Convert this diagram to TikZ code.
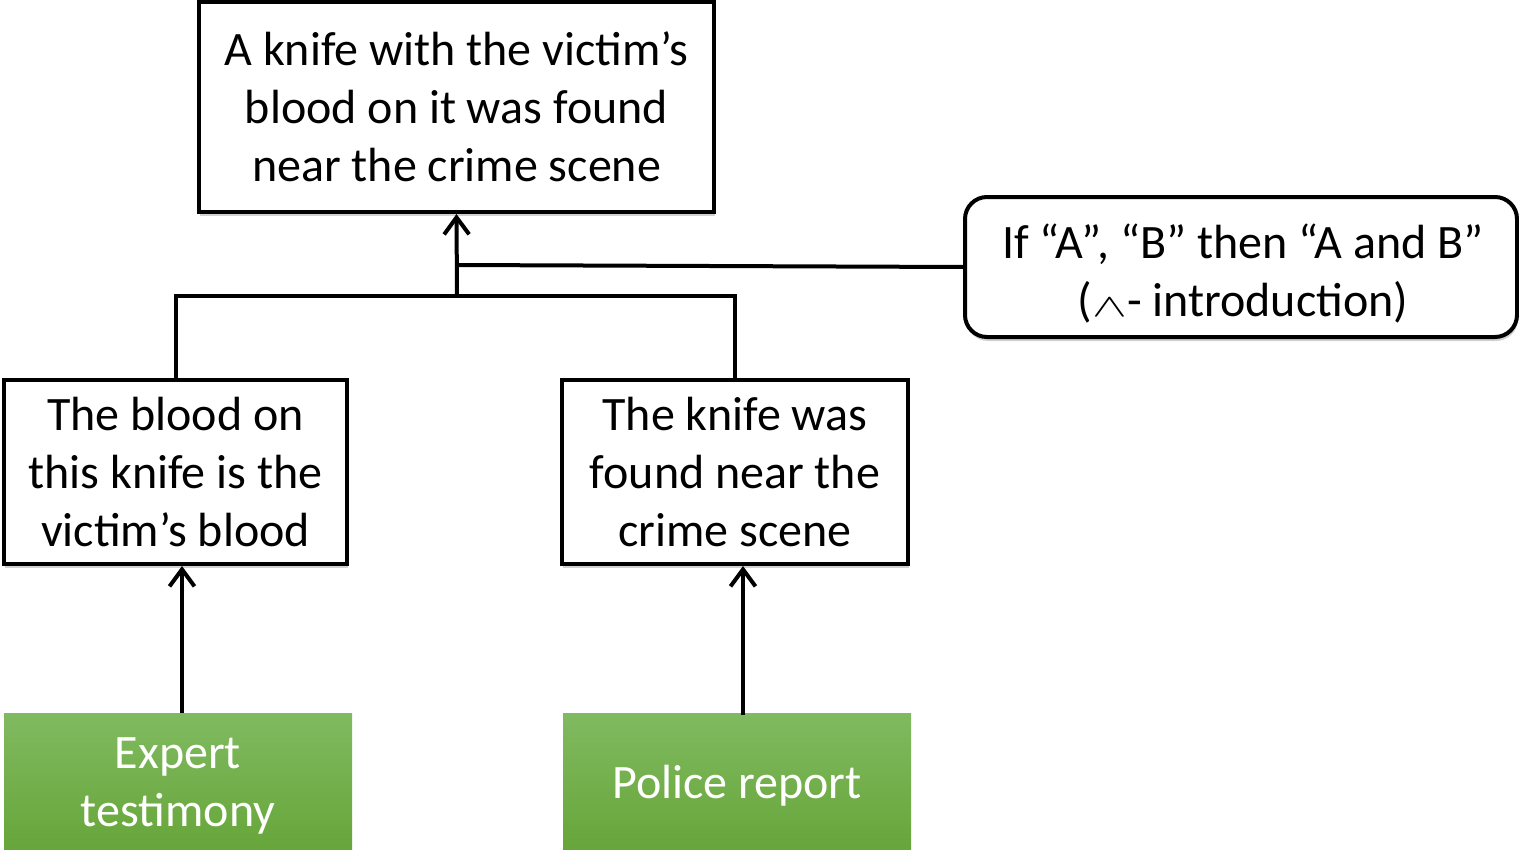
\documentclass[tikz,border=0pt]{standalone}
\usepackage{fontspec}
\setmainfont{Carlito}
\usetikzlibrary{arrows.meta,shadows}
\definecolor{greentop}{RGB}{128,186,96}
\definecolor{greenbot}{RGB}{103,166,58}
\newcommand{\andsym}{\scalebox{2.1}[1.3]{$\wedge$}}
\begin{document}
\begin{tikzpicture}[x=1pt,y=-1pt,
  txt/.style={font=\fontsize{48}{58}\selectfont, align=center, inner sep=0pt},
  claim/.style={txt, draw=black, line width=4pt, fill=white,
    drop shadow={shadow xshift=1pt, shadow yshift=-4pt, opacity=0.18, fill=black}},
  rulebox/.style={claim, rounded corners=22pt},
  source/.style={minimum width=348pt, minimum height=136pt, inner sep=0pt,
    top color=greentop, bottom color=greenbot, draw=none},
  sourcetext/.style={txt, text=white},
  link/.style={line width=4pt},
  arr/.style={line width=4pt, -{Straight Barb[length=17pt, width=25pt, line width=4pt]}}]
\useasboundingbox (0,0) rectangle (1519,851);

% claims
\node[claim, minimum width=515pt, minimum height=210pt] (top) at (456.5,107)
  {A knife with the victim’s\\blood on it was found\\near the crime scene};
\node[claim, minimum width=343pt, minimum height=184pt] (left) at (175.5,472)
  {The blood on\\this knife is the\\victim’s blood};
\node[claim, minimum width=346pt, minimum height=184pt] (right) at (735,472)
  {The knife was\\found near the\\crime scene};

% inference rule
\node[rulebox, minimum width=552pt, minimum height=140pt] (rule) at (1241,267) {};
\node[txt] (rulelbl) at ([xshift=2pt,yshift=-7pt]rule.center)
  {If “A”, “B” then “A and B”\\(\andsym- introduction)};

% sources
\node[source] (expert) at (178,781) {};
\node[sourcetext] (expertlbl) at ([yshift=-5pt]expert.center) {Expert\\testimony};
\node[source] (police) at (737,781) {};
\node[sourcetext] (policelbl) at ([yshift=-5pt]police.center) {Police report};

% inference links
\coordinate (join) at (457,296);
\coordinate (tap) at (457,265);
\draw[link] (left.north) |- (join) -| (right.north);
\draw[arr] (join) -- (top.south);
\draw[link] (rule.west) -- (tap);
\draw[arr] ([xshift=4pt]expert.north) -- ([xshift=4pt]expert.north |- left.south);
\draw[arr] ([xshift=6pt,yshift=-2pt]police.north) -- ([xshift=6pt]police.north |- right.south);
\end{tikzpicture}
\end{document}
